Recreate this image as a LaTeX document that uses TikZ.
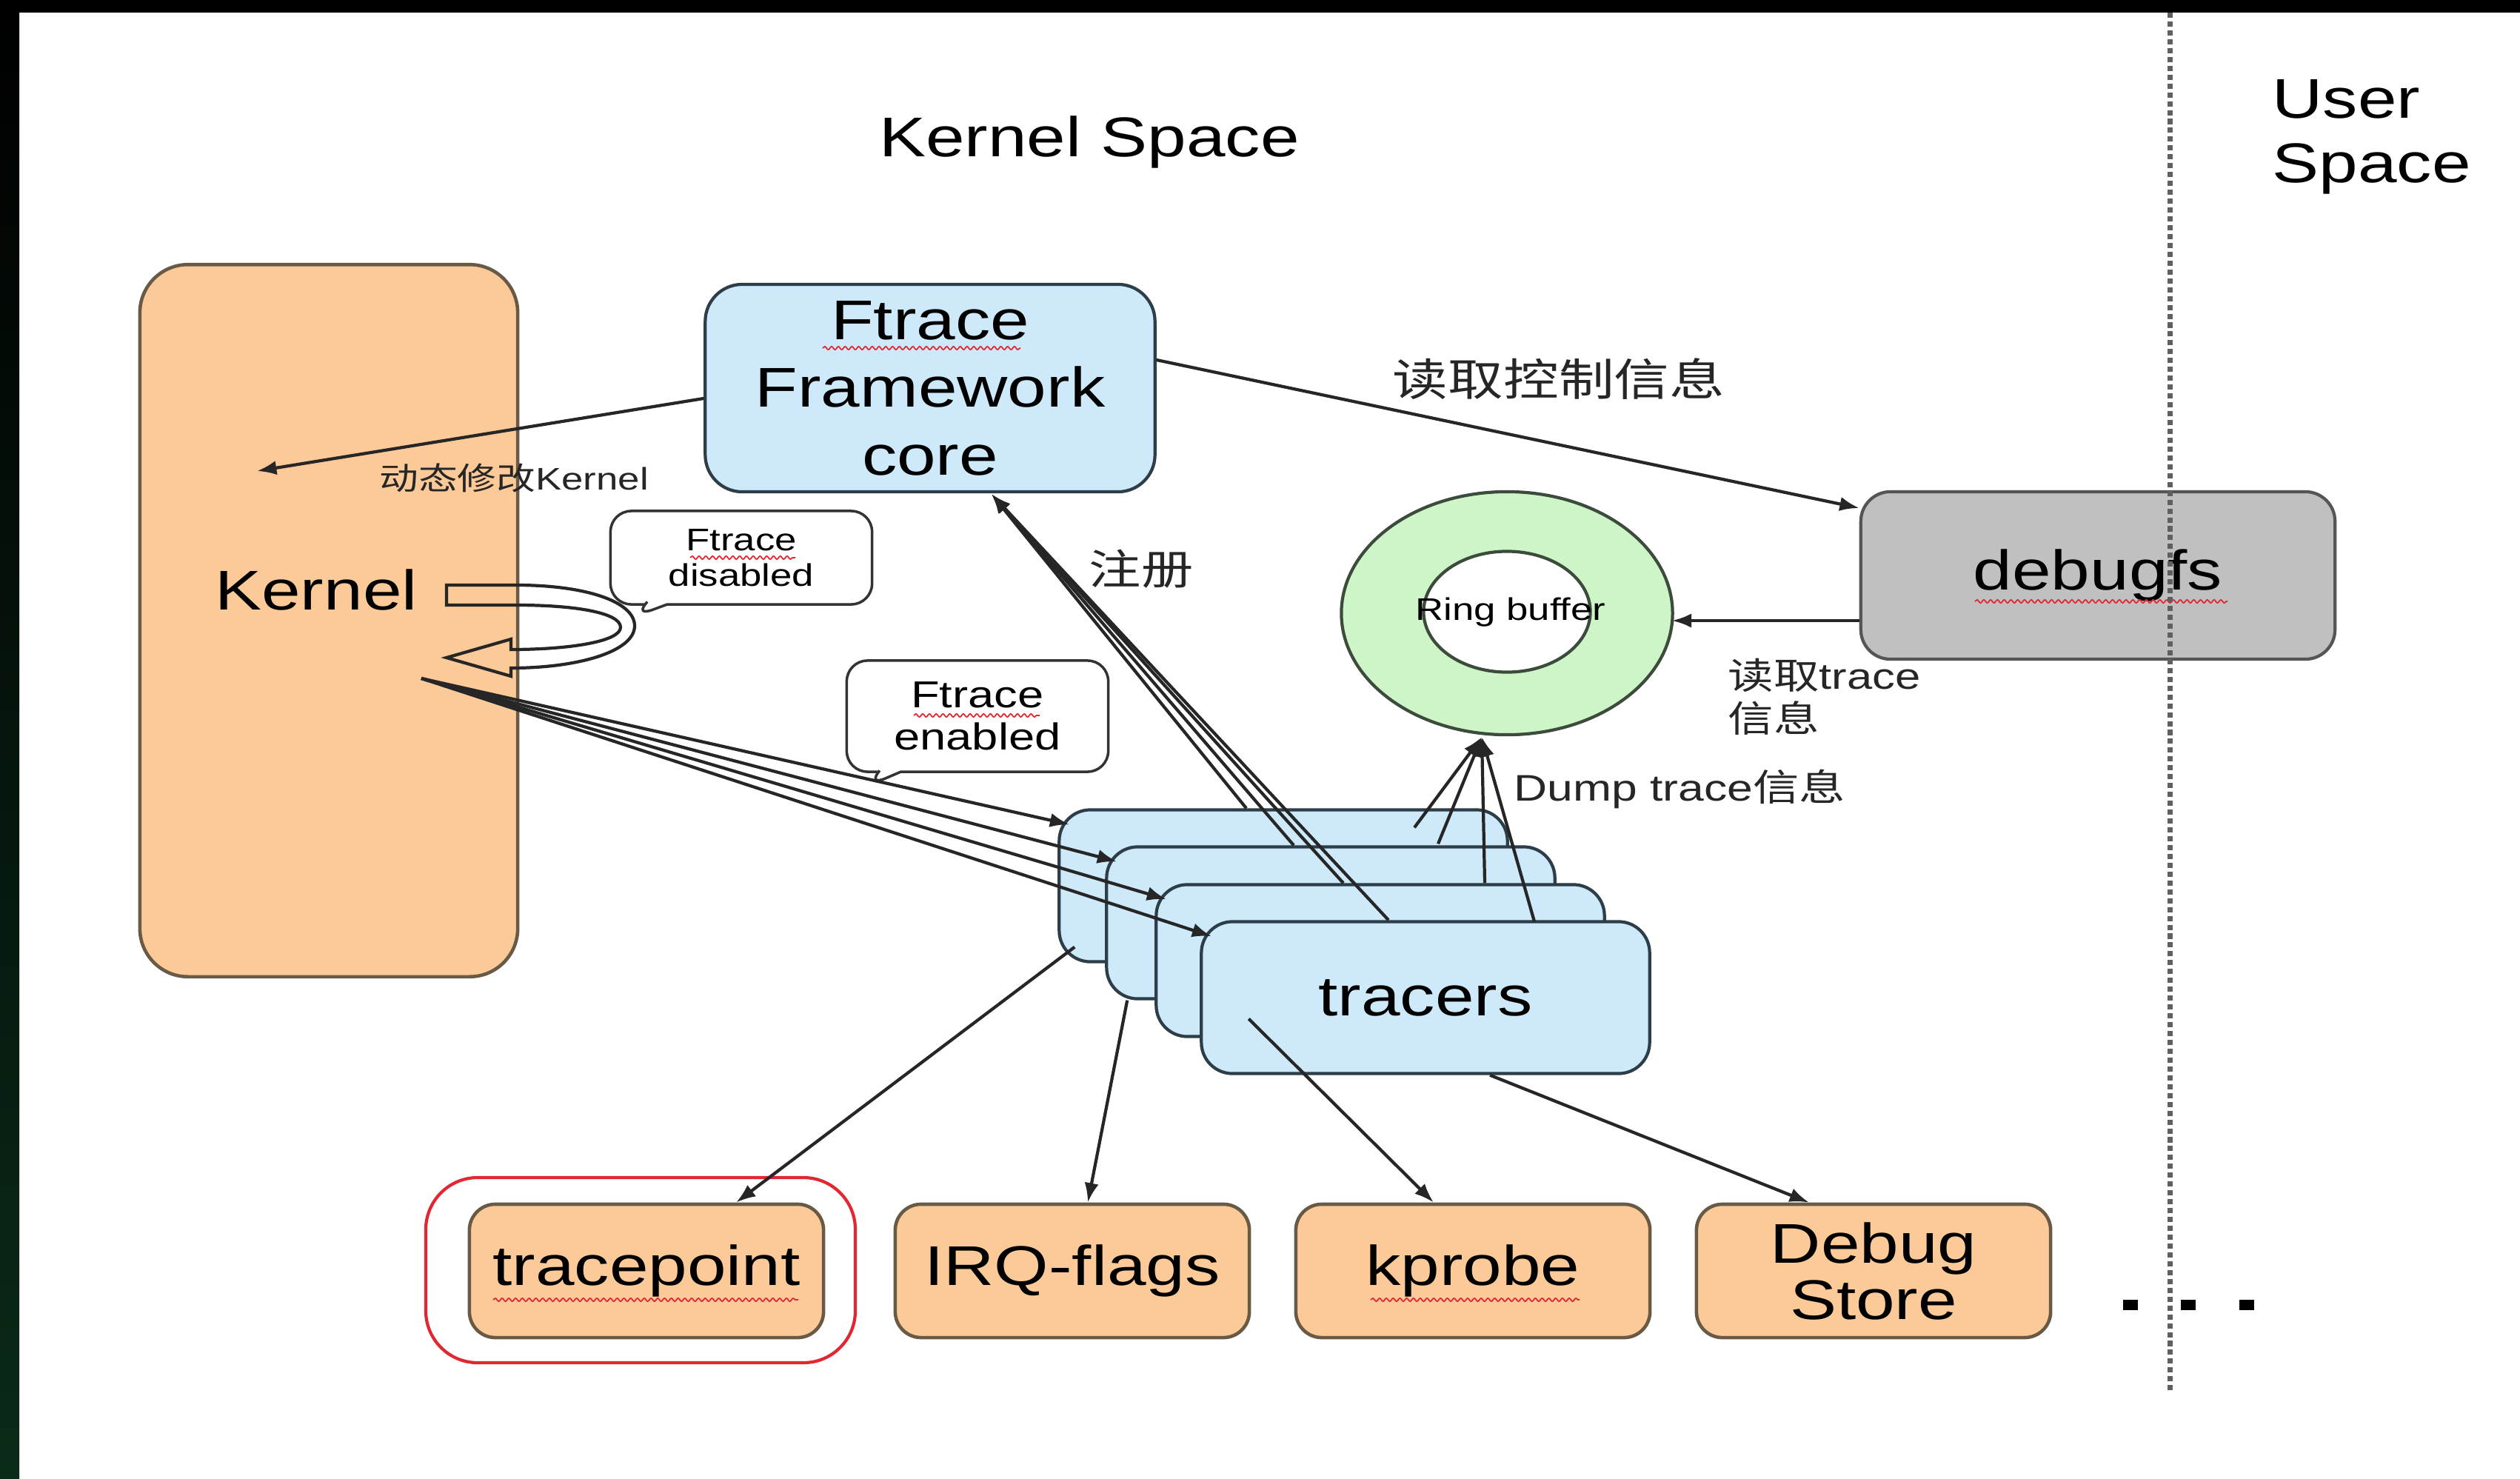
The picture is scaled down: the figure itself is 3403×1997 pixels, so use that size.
\documentclass[tikz,border=0pt]{standalone}
\usepackage{fontspec}
\setmainfont{Liberation Sans}[FakeStretch=1.25]
\newfontfamily\cjk{Noto Sans CJK SC}[FakeStretch=1.25]
\usetikzlibrary{arrows.meta,calc,shapes.geometric,shapes.callouts,decorations.pathmorphing}

\definecolor{ofill}{RGB}{251,202,152}
\definecolor{obrd}{RGB}{105,90,70}
\definecolor{bfill}{RGB}{205,233,250}
\definecolor{bbrd}{RGB}{45,62,72}
\definecolor{gfill}{RGB}{192,192,192}
\definecolor{gbrd}{RGB}{85,85,85}
\definecolor{rfill}{RGB}{205,245,200}
\definecolor{rbrd}{RGB}{60,75,60}
\definecolor{stripbot}{RGB}{10,42,24}
\definecolor{sepline}{RGB}{95,95,95}
\definecolor{hlred}{RGB}{225,40,50}

\newcommand\fbig{\fontsize{21.5}{26}\selectfont}
\newcommand\fdis{\fontsize{12}{13.7}\selectfont}
\newcommand\fena{\fontsize{14.4}{16.2}\selectfont}

\tikzset{
  orangebox/.style={draw=obrd, fill=ofill, line width=1.3pt, rounded corners=0.35cm, inner sep=0pt},
  bluebox/.style={draw=bbrd, fill=bfill, line width=1.2pt, rounded corners=0.42cm, inner sep=0pt},
  tracerbox/.style={bluebox, minimum width=6.05cm, minimum height=2.05cm},
  leafbox/.style={orangebox, minimum width=4.78cm, minimum height=1.80cm, font=\fbig, align=center},
  arr/.style={-{Latex[length=7.5pt,width=5.5pt]}, line width=1.2pt, draw=black!85},
  bubble/.style={rectangle callout, draw=black!80, fill=white, line width=1pt,
    rounded corners=0.28cm, minimum width=3.53cm, align=center, inner sep=0pt,
    callout pointer width=0.3cm},
  lbl/.style={inner sep=0pt, text=black!85},
  squig/.style={draw=hlred, line width=0.5pt, decorate,
    decoration={snake, amplitude=0.6pt, segment length=2.6pt}},
}

\begin{document}
\begin{tikzpicture}[x=0.01cm, y=-0.01cm]
% page, dark frame
\fill[white] (0,0) rectangle (3403,1997);
\useasboundingbox (0,0) rectangle (3403,1997);
\shade[top color=black, bottom color=stripbot] (0,0) rectangle (26,1997);
\fill[black] (0,0) rectangle (3403,17);

% headings
\node[font=\fbig, inner sep=0pt] (kspace) at (1471,192) {Kernel Space};
\node[font=\fontsize{21.5}{24.7}\selectfont, align=left, anchor=west, inner sep=0pt] (uspace) at (3068,185) {User\\Space};

% kernel block
\node[orangebox, rounded corners=0.65cm, minimum width=5.10cm, minimum height=9.61cm] (kernel) at (444,838) {};
\node[font=\fbig, inner sep=0pt] (kerneltxt) at (427,796) {Kernel};

% framework core
\node[bluebox, rounded corners=0.5cm, minimum width=6.07cm, minimum height=2.80cm, align=center, font=\fbig] (core) at (1256,524) {Ftrace\\Framework\\core};

% debugfs
\node[draw=gbrd, fill=gfill, line width=1.2pt, rounded corners=0.4cm, minimum width=6.40cm, minimum height=2.26cm, font=\fbig] (dbg) at (2833,777) {debugfs};

% ring buffer
\node[ellipse, draw=rbrd, fill=rfill, line width=1.2pt, minimum width=4.47cm, minimum height=3.28cm] (ring) at (2035,828) {};
\node[ellipse, draw=rbrd, fill=white, line width=1.2pt, minimum width=2.25cm, minimum height=1.63cm] (ringin) at (2035,826) {};
\node[font=\fontsize{12}{14}\selectfont, inner sep=0pt] (ringtxt) at (2040,827) {Ring buffer};

% stacked tracers
\node[tracerbox] (t1) at (1733,1196) {};
\node[tracerbox] (t2) at (1797,1246) {};
\node[tracerbox] (t3) at (1864,1297) {};
\node[tracerbox, font=\fbig] (t4) at (1925,1347) {tracers};

% leaf providers
\node[leafbox] (tp) at (873,1716) {tracepoint};
\node[leafbox] (irq) at (1448,1716) {IRQ-flags};
\node[leafbox] (kp) at (1989,1716) {kprobe};
\node[leafbox, font=\fontsize{21.5}{21.6}\selectfont] (ds) at (2530,1716) {Debug\\Store};
\draw[hlred, line width=1.2pt, rounded corners=0.7cm] (575,1590) rectangle (1155,1840);

% more providers
\fill[black] (2867,1755) rectangle (2887,1769);
\fill[black] (2945,1755) rectangle (2965,1769);
\fill[black] (3024,1755) rectangle (3044,1769);

% U-turn block arrow inside the kernel
\draw[line width=1.2pt, draw=black!85] (603,790) -- (697,790)
  .. controls (790,790) and (857,812) .. (857,845)
  .. controls (857,880) and (780,902) .. (690,902)
  -- (690,913) -- (603,888) -- (690,863) -- (690,877)
  .. controls (770,877) and (838,866) .. (838,847)
  .. controls (838,828) and (780,817) .. (697,817)
  -- (603,817) -- cycle;

% callouts
\node[bubble, minimum height=1.26cm, font=\fdis, callout absolute pointer={(855,833)}] (cdis) at (1001,753) {Ftrace\\disabled};
\node[bubble, minimum height=1.50cm, font=\fena, callout absolute pointer={(1170,1062)}] (cena) at (1320,967) {Ftrace\\enabled};

% anchor points inside the kernel block
\coordinate (kin) at (347,636);
\coordinate (kout) at (569,916);

% framework core patches the kernel
\draw[arr] ($(core.west)+(0,14)$) -- (kin);
\node[lbl, font=\fontsize{12}{14}\selectfont] (lblmod) at (694,645) {{\cjk 动态修改}Kernel};

% control information to debugfs
\draw[arr] ($(core.east)+(0,-38)$) -- ($(dbg.west)+(0,-91)$);
\node[lbl, font=\fontsize{17}{20}\selectfont] (lblctl) at (2105,512) {\cjk 读取控制信息};

% debugfs reads the ring buffer
\draw[arr] ($(dbg.west)+(0,61)$) -- ($(ring.east)+(-3,10)$);
\node[lbl, font=\fontsize{14}{16.5}\selectfont, align=left, anchor=west] (lblrd) at (2333,941) {{\cjk 读取}trace\\{\cjk 信息}};

% tracers register with the core
\coordinate (regtip) at ($(core.south)+(83,1)$);
\foreach \t in {t1,t2,t3,t4}
  \draw[arr] ($(\t.north)+(-50,0)$) -- (regtip);
\node[lbl, font=\fontsize{16}{19}\selectfont] (lblreg) at (1541,768) {\cjk 注册};

% tracers dump into the ring buffer
\coordinate (dumptip) at ($(ring.south)+(-34,1)$);
\draw[arr] ($(t1.north)+(177,26)$) -- (dumptip);
\draw[arr] ($(t2.north)+(145,-2)$) -- (dumptip);
\draw[arr] ($(t3.north)+(141,0)$) -- (dumptip);
\draw[arr] ($(t4.north)+(147,2)$) -- (dumptip);
\node[lbl, font=\fontsize{14.2}{17}\selectfont, anchor=west] (lbldump) at (2044,1065) {Dump trace{\cjk 信息}};

% kernel enables the tracers
\foreach \t in {t1,t2,t3,t4}
  \draw[arr] (kout) -- ($(\t.north west)+(16,22)$);

% tracers use the providers
\draw[arr] ($(t1.south west)+(23,-22)$) -- ($(tp.north)+(121,0)$);
\draw[arr] ($(t2.south west)+(30,0)$) -- ($(irq.north)+(21,0)$);
\draw[arr] ($(t4.south west)+(66,-76)$) -- ($(kp.north)+(-53,0)$);
\draw[arr] ($(t4.south)+(87,0)$) -- ($(ds.north)+(-87,0)$);

% spell-check marks
\draw[squig] (1111,470) -- (1378,470);
\draw[squig] (2667,812) -- (3008,812);
\draw[squig] (666,1755) -- (1078,1755);
\draw[squig] (1851,1755) -- (2133,1755);
\draw[squig] (932,753) -- (1074,753);
\draw[squig] (1234,966) -- (1404,966);

% kernel / user boundary
\draw[sepline, line width=2pt, dash pattern=on 2pt off 1.4pt] (2930,17) -- (2930,1880);
\end{tikzpicture}
\end{document}
